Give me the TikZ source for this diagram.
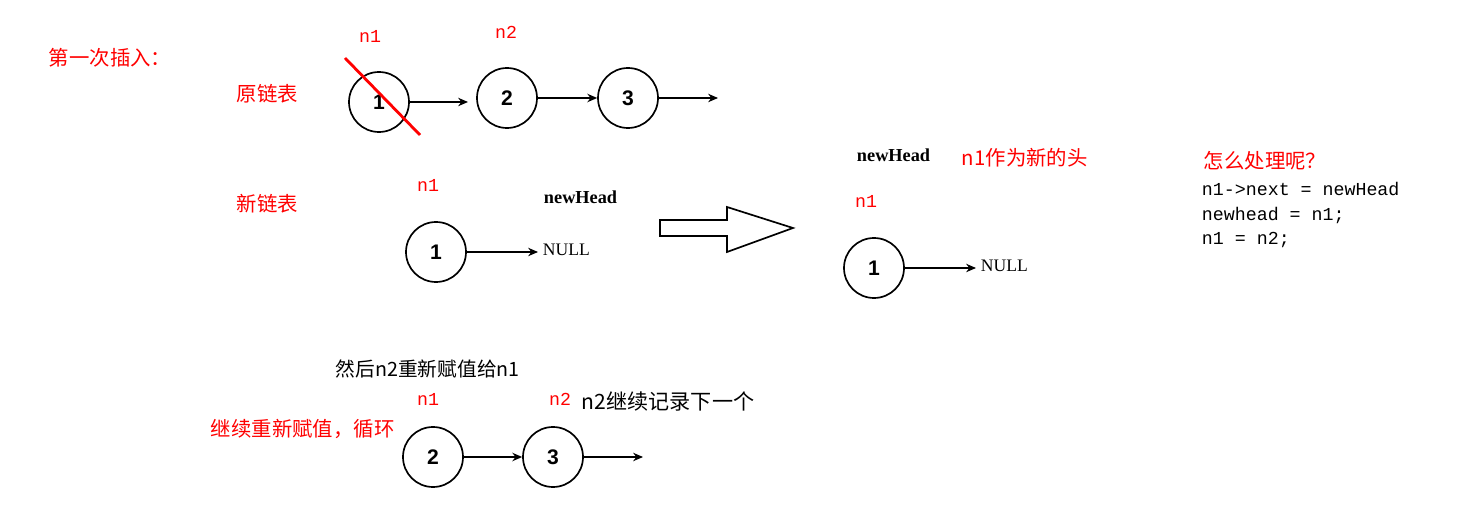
\documentclass[tikz,border=0pt]{standalone}
\usepackage{fontspec}
\setmainfont{Liberation Serif}
\setsansfont{Liberation Sans}
\setmonofont{Liberation Mono}
\newfontfamily\cjk{Noto Sans CJK SC}
\usetikzlibrary{arrows.meta}

\tikzset{
  elem/.style={draw, line width=1.2pt, circle, minimum size=60*0.025cm, inner sep=0pt,
    font=\sffamily\bfseries\fontsize{15}{15}\selectfont},
  ptr/.style={red, font=\ttfamily\fontsize{13}{13}\selectfont},
  note/.style={red, font=\cjk\fontsize{14.5}{15}\selectfont},
  word/.style={font=\bfseries\fontsize{13}{13}\selectfont},
  nul/.style={font=\fontsize{12.5}{13}\selectfont},
  code/.style={font=\ttfamily\fontsize{13}{13}\selectfont},
  link/.style={line width=1pt, -{Stealth[length=7pt, width=6pt]}},
}

\begin{document}
\begin{tikzpicture}[x=0.025cm, y=-0.025cm]
\useasboundingbox (0,0) rectangle (1467,517);

% titre et legendes
\node[note, anchor=west] (title) at (44,58) {第一次插入：};
\node[note, anchor=west] (old) at (232,94) {原链表};
\node[note, anchor=west] (new) at (232,204) {新链表};

% liste d'origine
\node[ptr] (pa) at (370,36) {n1};
\node[ptr] (pb) at (506,32) {n2};
\node[elem] (a1) at (379,102) {1};
\node[elem] (a2) at (507,98) {2};
\node[elem] (a3) at (628,98) {3};
\coordinate (aend1) at (468,102);
\coordinate (aend3) at (718,98);
\draw[link] (a1) -- (aend1);
\draw[link] (a2) -- (a3);
\draw[link] (a3) -- (aend3);
\draw[red, line width=2pt] (345,58) -- (420,135);

% nouvelle liste
\node[ptr] (pc) at (428,185) {n1};
\node[word, anchor=west] (hd1) at (539,197) {newHead};
\node[elem] (b1) at (436,252) {1};
\node[nul, anchor=west] (nul1) at (538,250) {NULL};
\draw[link] (b1) -- (b1 -| nul1.west);

% grosse fleche
\draw[very thick] (660,220) -- (727,220) -- (727,207) -- (793,228) -- (727,252)
  -- (727,236) -- (660,236) -- cycle;

% resultat
\node[word, anchor=west] (hd2) at (852,155) {newHead};
\node[note, anchor=west] (cap) at (957,158) {n1作为新的头};
\node[ptr] (pd) at (866,201) {n1};
\node[elem] (c1) at (874,268) {1};
\node[nul, anchor=west] (nul2) at (976,266) {NULL};
\draw[link] (c1) -- (c1 -| nul2.west);

% code
\node[note, anchor=west] (ask) at (1199,161) {怎么处理呢？};
\node[code, anchor=west] (l1) at (1197,189) {n1->next = newHead};
\node[code, anchor=west] (l2) at (1197,215) {newhead = n1;};
\node[code, anchor=west] (l3) at (1197,240) {n1 = n2;};

% boucle
\node[anchor=west, font=\cjk\fontsize{14}{14}\selectfont] (then) at (331,369) {然后n2重新赋值给n1};
\node[ptr] (pe) at (428,399) {n1};
\node[ptr] (pf) at (560,399) {n2};
\node[anchor=west, font=\cjk\fontsize{15}{15}\selectfont] (keep) at (577,401) {n2继续记录下一个};
\node[note, anchor=west] (loop) at (206,429) {继续重新赋值，循环};
\node[elem] (d2) at (433,457) {2};
\node[elem] (d3) at (553,457) {3};
\coordinate (dend) at (643,457);
\draw[link] (d2) -- (d3);
\draw[link] (d3) -- (dend);
\end{tikzpicture}
\end{document}
